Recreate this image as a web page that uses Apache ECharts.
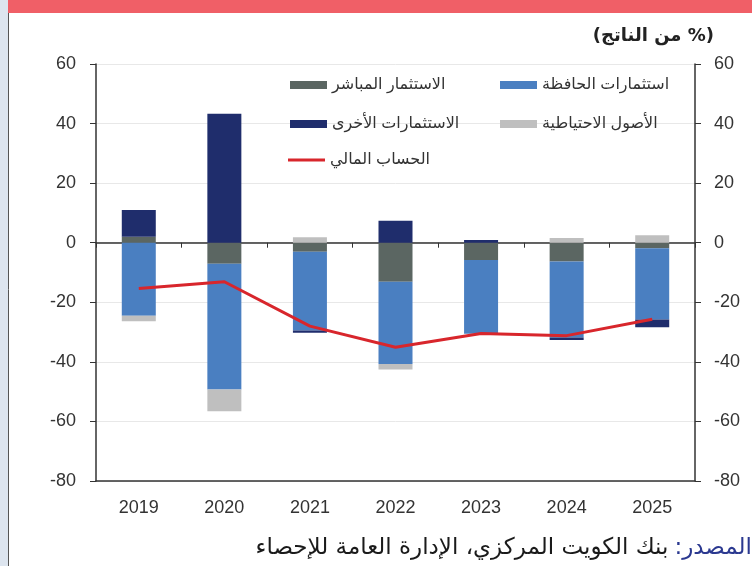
<!DOCTYPE html>
<html>
<head>
<meta charset="utf-8">
<script src="https://cdn.jsdelivr.net/npm/echarts@6/dist/echarts.min.js"></script>
<style>
  html, body { margin: 0; padding: 0; background: #fff; }
  #chart { width: 752px; height: 566px; }
</style>
</head>
<body>
<div id="chart"></div>
<script>
// السنوات
var years = ['2019', '2020', '2021', '2022', '2023', '2024', '2025'];
// مكونات الحساب المالي (% من الناتج)
var directInv = [2.0, -7.1, -3.0, -13.1, -5.8, -6.3, -1.9];
var portfolioInv = [-24.5, -42.2, -26.5, -27.6, -24.8, -25.5, -23.9];
var otherInv = [9.0, 43.3, -0.7, 7.4, 0.9, -0.9, -2.6];
var reserveAssets = [-1.9, -7.3, 1.8, -1.9, 0, 1.6, 2.5];
var financialAccount = [-15.4, -13.1, -28.0, -35.1, -30.5, -31.2, -25.7];
var yTicks = { min: -80, max: 60, interval: 20 };

var RLM = '\u200F';
var numFont = "'Liberation Sans', Arial, sans-serif";
var arFont = "'Liberation Sans', 'DejaVu Sans', sans-serif";

var names = {
	direct: 'الاستثمار المباشر',
	portfolio: 'استثمارات الحافظة',
	other: 'الاستثمارات الأخرى',
	reserve: 'الأصول الاحتياطية',
	fa: 'الحساب المالي'
};

function measure(text, font){
	var ctx = document.createElement('canvas').getContext('2d');
	ctx.font = font;
	return ctx.measureText(text).width;
}

var srcFont = "23px 'DejaVu Sans', sans-serif";
var srcHead = 'المصدر:' + RLM;
var srcRest = 'بنك الكويت المركزي، الإدارة العامة للإحصاء';
var srcRight = 752;
var headW = measure(srcHead, srcFont);

function legendAt(name, left, top, isLine){
	return {
		data: [name],
		left: left,
		top: top,
		padding: 0,
		icon: 'rect',
		itemWidth: 37,
		itemHeight: isLine ? 3 : 8,
		itemGap: 0,
		selectedMode: false,
		textStyle: { color: '#333', fontSize: 16, lineHeight: 16, fontFamily: arFont, padding: [0, 0, 0, 0] }
	};
}

function barSeries(name, data, color){
	return {
		name: name,
		type: 'bar',
		stack: 'fa',
		barWidth: 34,
		data: data,
		itemStyle: { color: color },
		emphasis: { disabled: true }
	};
}

var chart = echarts.init(document.getElementById('chart'));
var option = {
	animation: false,
	backgroundColor: '#fff',
	grid: { left: 96, right: 57, top: 64, bottom: 85 },
	legend: [
		legendAt(names.portfolio, 500, 77),
		legendAt(names.direct, 290, 77),
		legendAt(names.reserve, 500, 116),
		legendAt(names.other, 290, 116),
		legendAt(names.fa, 288, 152, true)
	],
	xAxis: [{
		type: 'category',
		data: years,
		position: 'top',
		axisLine: { onZero: true, lineStyle: { color: '#333', width: 1.5 } },
		axisTick: { show: true, inside: true, length: 5, lineStyle: { color: '#333' } },
		axisLabel: { show: false },
		splitLine: { show: false }
	}, {
		type: 'category',
		data: years,
		position: 'bottom',
		axisLine: { onZero: false, lineStyle: { color: '#333', width: 1.5 } },
		axisTick: { show: false },
		axisLabel: { color: '#333', fontSize: 18, fontFamily: numFont, margin: 18 }
	}],
	yAxis: [{
		type: 'value',
		min: yTicks.min, max: yTicks.max, interval: yTicks.interval,
		position: 'left',
		axisLine: { show: true, onZero: false, lineStyle: { color: '#333', width: 1.5 } },
		axisTick: { show: true, length: 6, lineStyle: { color: '#333' } },
		axisLabel: { color: '#333', fontSize: 18, fontFamily: numFont, margin: 20 },
		splitLine: { show: true, lineStyle: { color: '#e8e8e8' } }
	}, {
		type: 'value',
		min: yTicks.min, max: yTicks.max, interval: yTicks.interval,
		position: 'right',
		axisLine: { show: true, onZero: false, lineStyle: { color: '#333', width: 1.5 } },
		axisTick: { show: true, length: 6, lineStyle: { color: '#333' } },
		axisLabel: { color: '#333', fontSize: 18, fontFamily: numFont, margin: 19 },
		splitLine: { show: false }
	}],
	series: [
		barSeries(names.direct, directInv, '#5b6662'),
		barSeries(names.portfolio, portfolioInv, '#4a7fc1'),
		barSeries(names.other, otherInv, '#1f2d6c'),
		barSeries(names.reserve, reserveAssets, '#bfbfbf'),
		{
			name: names.fa,
			type: 'line',
			data: financialAccount,
			symbol: 'none',
			lineStyle: { color: '#d8262c', width: 3 },
			itemStyle: { color: '#d8262c' },
			z: 5
		}
	],
	graphic: [
		{ type: 'rect', shape: { x: 0, y: 0, width: 8, height: 566 }, style: { fill: '#dde5ef' }, silent: true },
		{ type: 'rect', shape: { x: 8, y: 0, width: 744, height: 13 }, style: { fill: '#f05f67' }, silent: true },
		{ type: 'line', shape: { x1: 8.5, y1: 13, x2: 8.5, y2: 566 }, style: { stroke: '#555', lineWidth: 1 }, silent: true },
		{
			type: 'text', x: 714, y: 36,
			style: {
				text: RLM + '(% من الناتج)' + RLM,
				font: "bold 18px 'DejaVu Sans', sans-serif",
				fill: '#222', align: 'right', verticalAlign: 'middle'
			}
		},
		{
			type: 'text', x: srcRight, y: 548,
			style: { text: srcHead, font: srcFont, fill: '#2b3990', align: 'right', verticalAlign: 'middle' }
		},
		{
			type: 'text', x: srcRight - headW - 6, y: 548,
			style: { text: srcRest, font: srcFont, fill: '#1a1a1a', align: 'right', verticalAlign: 'middle' }
		}
	]
};
chart.setOption(option);
</script>
</body>
</html>
